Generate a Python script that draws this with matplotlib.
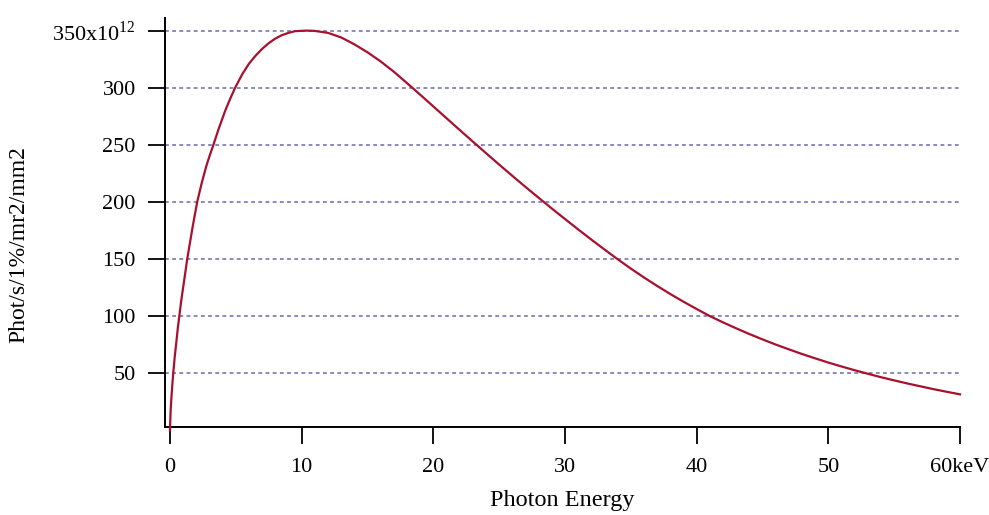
import matplotlib
matplotlib.use("Agg")
import matplotlib.pyplot as plt

# bending magnet brightness vs photon energy
energy_kev = [0, 0.05, 0.1, 0.18, 0.25, 0.35, 0.5, 0.6, 0.71, 0.85, 1.0,
              1.15, 1.31, 1.5, 1.75, 2.07, 2.4, 2.75, 3.0, 3.3, 3.7, 4.2,
              4.6, 4.95, 5.5, 6.0, 6.5, 7.0, 7.5, 8.0, 8.5, 9.0, 9.5, 10.4,
              11.0, 12.0, 13.0, 14.0, 15.0, 16.0, 17.0, 18.0, 18.4, 19.0,
              20.0, 21.0, 22.0, 23.0, 24.0, 25.0, 26.0, 27.0, 28.0, 29.0,
              30.0, 31.0, 32.0, 33.0, 34.0, 35.0, 36.0, 37.0, 38.0, 39.0,
              40.0, 41.0, 42.0, 43.0, 44.0, 45.0, 46.0, 47.0, 48.0, 49.0,
              50.0, 51.0, 52.0, 53.0, 54.0, 55.0, 56.0, 57.0, 58.0, 59.0,
              60.0]
flux = [0, 17, 27, 40, 50, 63, 79, 90, 100, 113, 125,
        137, 150, 163, 180, 200, 216, 231, 240, 250, 264, 280,
        291, 300, 312, 321, 328, 334, 339, 343, 346, 348, 349.5, 350,
        349.7, 348, 344, 338, 331, 323, 314, 304, 300, 293.9,
        283.6, 273.3, 263.0, 252.8, 242.7, 232.7, 222.8, 213.1, 203.6, 194.2,
        185.0, 175.9, 167.0, 158.3, 149.8, 141.6, 133.8, 126.4, 119.3, 112.6,
        106.2, 100.0, 94.5, 89.3, 84.3, 79.6, 75.1, 70.9, 66.8, 63.0,
        59.3, 55.9, 52.6, 49.5, 46.5, 43.7, 41.0, 38.5, 36.0, 33.7,
        31.5]

xticks = [0, 10, 20, 30, 40, 50, 60]
xtick_labels = ["0", "10", "20", "30", "40", "50", "60keV"]
yticks = [50, 100, 150, 200, 250, 300, 350]
ytick_labels = ["50", "100", "150", "200", "250", "300",
                "350x10$^{\\mathregular{12}}$"]

plt.rcParams["font.family"] = ["Liberation Serif", "DejaVu Serif"]
plt.rcParams["mathtext.fontset"] = "custom"
plt.rcParams["mathtext.rm"] = "Liberation Serif"

fig = plt.figure(figsize=(9.89, 5.15), dpi=100)
ax = fig.add_axes([0.1668, 0.1709, 0.8039, 0.7941])

for v in yticks:
    ax.axhline(v, color="#6a6aae", lw=1.1, ls=(0, (2.5, 2.2)), zorder=1)

ax.plot(energy_kev, flux, color="#a8102e", lw=1.6, zorder=3, clip_on=False)

ax.set_xlim(-0.38, 60)
ax.set_ylim(2.9, 361)

ax.set_xticks(xticks)
ax.set_xticklabels(xtick_labels)
ax.set_yticks(yticks)
ax.set_yticklabels(ytick_labels)

for s in ["top", "right"]:
    ax.spines[s].set_visible(False)
for s in ["left", "bottom"]:
    ax.spines[s].set_linewidth(1.4)
ax.tick_params(axis="both", direction="out", length=12, width=1.3,
               labelsize=16, pad=9)
ax.tick_params(axis="x", pad=10)

ax.set_xlabel("Photon Energy", fontsize=17.5)
ax.set_ylabel("Phot/s/1%/mr2/mm2", fontsize=17)
ax.xaxis.set_label_coords(0.5, -0.155)
ax.yaxis.set_label_coords(-0.17, 0.445)

fig.savefig("out.png", dpi=100)
